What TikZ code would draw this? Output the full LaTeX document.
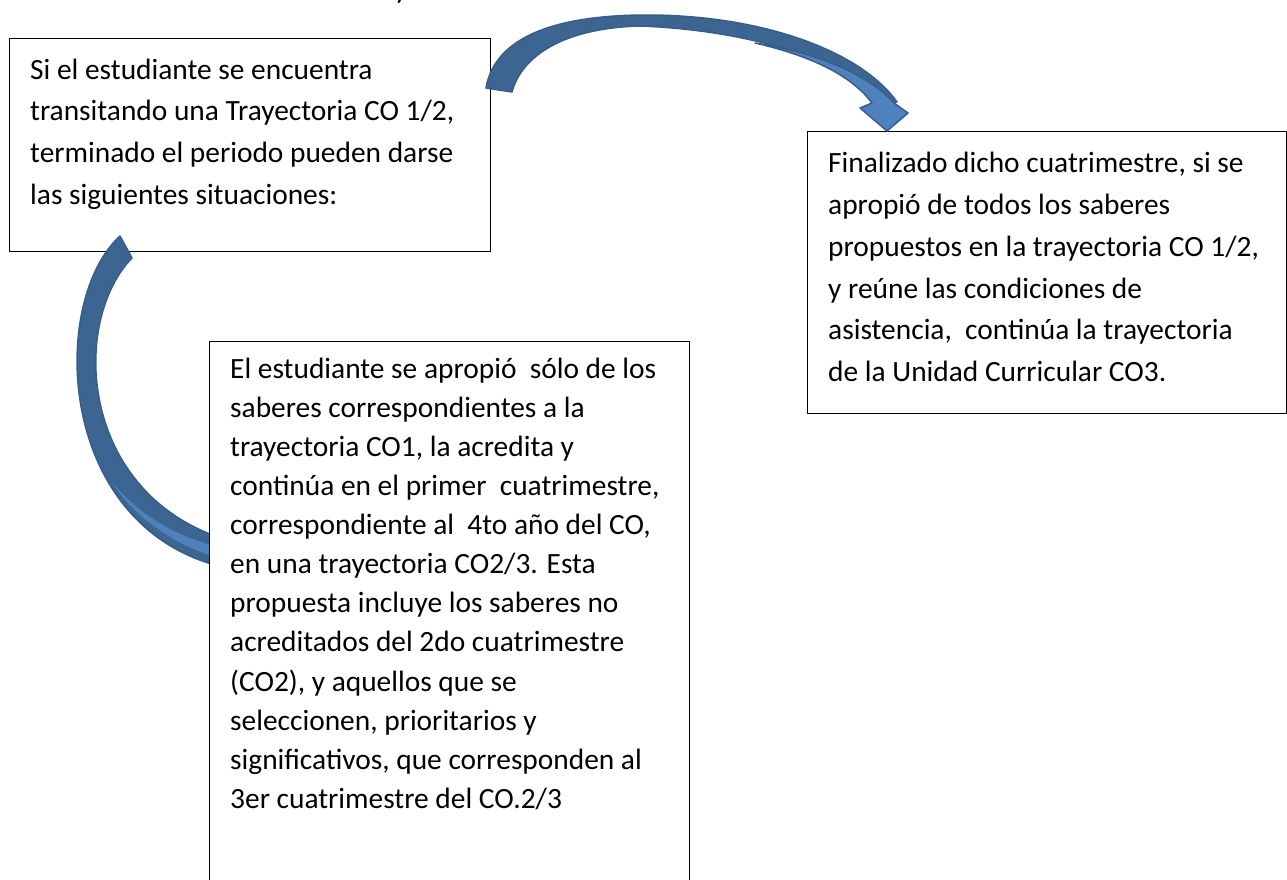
\documentclass[tikz,border=0pt]{standalone}
\usepackage{fontspec}
\setmainfont{Carlito}
\definecolor{arrowdark}{HTML}{3C6592}
\definecolor{arrowline}{HTML}{385D8A}
\definecolor{arrowlight}{HTML}{4F81BD}
\begin{document}
\begin{tikzpicture}[x=1pt,y=-1pt,
  box/.style={draw=black, line width=1.4pt, fill=white, inner sep=0pt, anchor=north west},
  txt/.style={anchor=north west, align=left, inner sep=0pt, font=\fontsize{29.4}{41.7}\selectfont},
  txtc/.style={anchor=north west, align=left, inner sep=0pt, font=\fontsize{29.4}{39.1}\selectfont},
  back/.style={fill=arrowdark, draw=arrowline, line width=1.5pt, line join=round},
  front/.style={fill=arrowlight, draw=arrowline, line width=1.5pt, line join=round}]
\useasboundingbox (0,0) rectangle (1287,879);

% fragment of text cut at the top
\node[anchor=base, inner sep=0pt, font=\fontsize{29.4}{35}\selectfont] (frag) at (401,-2) {y};

% boxes 1 and 2
\node[box, minimum width=481, minimum height=213] (b1) at (9,38) {};
\node[box, minimum width=479, minimum height=282] (b2) at (807,131) {};

\node[txt] (t1) at (30,49) {\rule{0pt}{30pt}Si el estudiante se encuentra\\
transitando una Trayectoria CO 1/2,\\
terminado el periodo pueden darse\\
las siguientes situaciones:};

\node[txt] (t2) at (828,142.7) {\rule{0pt}{30pt}Finalizado dicho cuatrimestre, si se\\
apropió de todos los saberes\\
propuestos en la trayectoria CO 1/2,\\
y reúne las condiciones de\\
asistencia,~ continúa la trayectoria\\
de la Unidad Curricular CO3.};

% curved arrow 1 (box 1 -> box 2)
\coordinate (a1tip) at (887,131);
\path[back] (486,88) .. controls (495,35) and (560,15) .. (647,15)
  .. controls (760,15) and (860,50) .. (897,102)
  -- (872,103) .. controls (845,58) and (745,30) .. (640,26)
  .. controls (565,28) and (522,55) .. (512,92) -- cycle;
\path[front] (755,43) .. controls (815,52) and (868,74) .. (894,103)
  -- (908,113) -- (a1tip) -- (860,108) -- (872,103)
  .. controls (852,76) and (812,56) .. (755,43) -- cycle;

% curved arrow 2 (box 1 -> box 3)
\path[back] (120,236) .. controls (50,300) and (55,520) .. (215,565)
  -- (215,536) .. controls (78,485) and (72,320) .. (132,258) -- cycle;
\fill[arrowlight] (112,482) .. controls (135,518) and (172,543) .. (215,557)
  -- (215,546) .. controls (172,535) and (136,512) .. (112,482) -- cycle;

% box 3
\node[box, minimum width=480, minimum height=560] (b3) at (209,341) {};
\node[txtc] (t3) at (230,348) {\rule{0pt}{30pt}El estudiante se apropió~ sólo de los\\
saberes correspondientes a la\\
trayectoria CO1, la acredita y\\
continúa en el primer~ cuatrimestre,\\
correspondiente al~ 4to año del CO,\\
en una trayectoria CO2/3. Esta\\
propuesta incluye los saberes no\\
acreditados del 2do cuatrimestre\\
(CO2), y aquellos que se\\
seleccionen, prioritarios y\\
significativos, que corresponden al\\
3er cuatrimestre del CO.2/3};
\end{tikzpicture}
\end{document}
